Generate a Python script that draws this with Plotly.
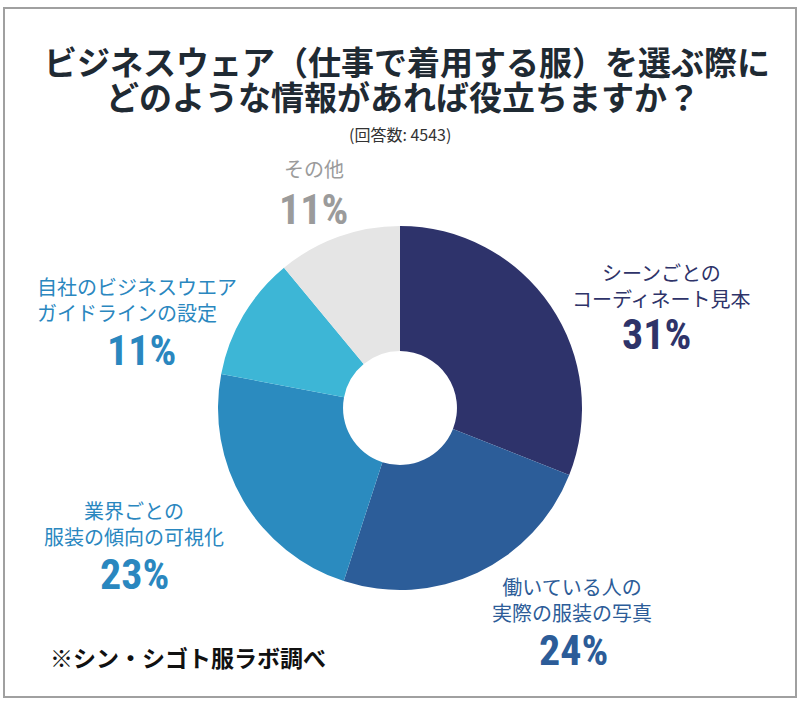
import plotly.graph_objects as go

W, H = 800, 705

# 回答データ（12時の位置から時計回り）
labels = [
    "シーンごとの<br>コーディネート見本",
    "働いている人の<br>実際の服装の写真",
    "業界ごとの<br>服装の傾向の可視化",
    "自社のビジネスウエア<br>ガイドラインの設定",
    "その他",
]
values = [31, 24, 23, 11, 11]
slice_colors = ["#2e336b", "#2c5d99", "#2b8bbf", "#3db6d6", "#e5e5e5"]
text_colors = ["#2e3369", "#2c5c98", "#2a87bf", "#2a87bf", "#9b9b9b"]

JP = "Noto Sans CJK JP"
NUM = "Roboto Condensed, Roboto, Noto Sans"


def px(x, y):
    """画像ピクセル（左上原点）→ paper座標"""
    return x / W, 1 - y / H


# ラベル配置: (ラベル中心x, ラベル中心y, %中心x, %中心y, 揃え)
label_layout = [
    (661, 285, 656, 334, "center"),
    (572, 599, 573, 650, "center"),
    (134, 523, 134, 574, "center"),
    (35, 300, 141, 350, "left"),
    (314, 168, 313, 209, "center"),
]

fig = go.Figure()
fig.add_trace(go.Pie(
    labels=[l.replace("<br>", "") for l in labels],
    values=values,
    hole=0.313,
    sort=False,
    direction="clockwise",
    rotation=0,
    marker=dict(colors=slice_colors, line=dict(width=0)),
    textinfo="none",
    hoverinfo="label+percent",
    domain=dict(x=[(400 - 182) / W, (400 + 182) / W],
                y=[1 - (408 + 182) / H, 1 - (408 - 182) / H]),
    showlegend=False,
))

anns = []


def add_text(x, y, text, size, color, family=JP, xanchor="center", align="center"):
    ax, ay = px(x, y)
    anns.append(dict(x=ax, y=ay, xref="paper", yref="paper", showarrow=False,
                     xanchor=xanchor, yanchor="middle", align=align, text=text,
                     font=dict(size=size, color=color, family=family)))


add_text(407, 61, "<b>ビジネスウェア（仕事で着用する服）を選ぶ際に</b>", 33, "#1f2a33")
add_text(403, 96, "<b>どのような情報があれば役立ちますか？</b>", 33, "#1f2a33")
add_text(400, 134, "(回答数: 4543)", 16, "#333333")
add_text(48, 657, "<b>※シン・シゴト服ラボ調べ</b>", 23, "#111111", xanchor="left")

for lab, val, col, (lx, ly, vx, vy, al) in zip(labels, values, text_colors, label_layout):
    add_text(lx, ly, lab, 20, col, xanchor=al, align=al)
    add_text(vx, vy, f"<b>{val}%</b>", 42, col, family=NUM)

fig.update_layout(
    width=W, height=H,
    margin=dict(l=0, r=0, t=0, b=0),
    paper_bgcolor="white",
    annotations=anns,
    shapes=[dict(type="rect", xref="paper", yref="paper",
                 x0=4 / W, x1=796 / W, y0=1 - 697 / H, y1=1 - 8 / H,
                 line=dict(color="#a0a0a0", width=2))],
)

fig.write_html("out.html", config={"displayModeBar": False},
               post_script="document.body.style.margin='0';")
